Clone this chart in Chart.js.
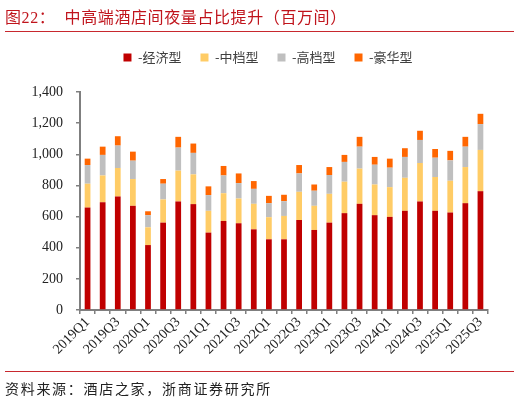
<!DOCTYPE html>
<html>
<head>
<meta charset="utf-8">
<script src="https://cdn.jsdelivr.net/npm/chart.js@4.4.1/dist/chart.umd.min.js"></script>
<style>
  html, body { margin: 0; padding: 0; background: #fff; }
  #wrap { position: relative; width: 520px; height: 402px; overflow: hidden; }
  #title { position: absolute; left: 5px; top: 4px; font-size: 16px; color: #c0141c; white-space: pre;
           font-family: "Liberation Serif", "Noto Sans CJK SC", serif; letter-spacing: 0.6px; }
  .rule { position: absolute; left: 5px; width: 509px; height: 1px; background: #c8282e; }
  #source { position: absolute; left: 5px; top: 378px; font-size: 14px; color: #222; letter-spacing: 1.7px;
            font-family: "Noto Sans CJK SC", sans-serif; }
  #box { position: absolute; left: 0; top: 0; width: 520px; height: 402px; }
</style>
</head>
<body>
<div id="wrap">
  <div id="box"><canvas id="hotelChart"></canvas></div>
  <div id="title">图22：  中高端酒店间夜量占比提升（百万间）</div>
  <div class="rule" style="top:31px"></div>
  <div class="rule" style="top:371px"></div>
  <div id="source">资料来源：酒店之家，浙商证券研究所</div>
</div>
<script>
// quarters 2019Q1 .. 2025Q3
const quarters = [
  "2019Q1","2019Q2","2019Q3","2019Q4",
  "2020Q1","2020Q2","2020Q3","2020Q4",
  "2021Q1","2021Q2","2021Q3","2021Q4",
  "2022Q1","2022Q2","2022Q3","2022Q4",
  "2023Q1","2023Q2","2023Q3","2023Q4",
  "2024Q1","2024Q2","2024Q3","2024Q4",
  "2025Q1","2025Q2","2025Q3"
];

// room nights, million
const economy  = [658,692,729,669,417,561,697,680,497,572,557,518,454,454,578,514,561,622,682,609,598,637,697,637,626,686,763];
const midscale = [153,172,183,172,114,149,198,191,140,178,159,164,142,150,181,155,185,202,226,197,191,212,247,217,204,232,265];
const upscale  = [120,132,144,118, 78,101,148,138,101,114, 99, 96, 90, 95,118, 97,121,127,141,127,125,134,148,124,131,131,166];
const luxury   = [ 41, 53, 60, 58, 25, 30, 69, 60, 56, 61, 62, 50, 47, 41, 54, 40, 51, 45, 63, 50, 58, 56, 59, 56, 61, 63, 66];

const yTicks = [0, 200, 400, 600, 800, 1000, 1200, 1400];

const serif = "'Liberation Serif', 'Times New Roman', serif";
const cjk = "'Noto Sans CJK SC', sans-serif";

function series(label, data, color) {
    return {
        label: label,
        data: data,
        backgroundColor: color,
        borderColor: color,
        borderWidth: 0,
        barPercentage: 0.38,
        categoryPercentage: 1.0
    };
}

// legend sits centred over the whole page in the original, a bit higher than chart.js puts it
const nudgeLegend = {
    id: "nudgeLegend",
    afterLayout(chart) {
        const l = chart.legend;
        if (!l) return;
        l.left += 24; l.right += 24;
        l.top -= 18; l.bottom -= 18;
    }
};

const ctx = document.getElementById("hotelChart").getContext("2d");
new Chart(ctx, {
    type: "bar",
    data: {
        labels: quarters,
        datasets: [
            series("-经济型", economy, "#c00000"),
            series("-中档型", midscale, "#ffcc66"),
            series("-高档型", upscale, "#bfbfbf"),
            series("-豪华型", luxury, "#ff6600")
        ]
    },
    plugins: [nudgeLegend],
    options: {
        responsive: true,
        maintainAspectRatio: false,
        animation: false,
        layout: { padding: { left: 0, right: 32, top: 50, bottom: 30 } },
        scales: {
            x: {
                stacked: true,
                afterFit: s => { s.height = 62; },
                border: { display: true, color: "#7f7f7f", width: 2 },
                grid: { display: true, drawOnChartArea: false, drawTicks: true, tickLength: 4, color: "#7f7f7f", lineWidth: 1.5, offset: true },
                ticks: {
                    autoSkip: false,
                    maxRotation: 45,
                    minRotation: 45,
                    padding: 0,
                    color: "#222",
                    font: { family: serif, size: 14 },
                    callback: (v, i) => (i % 2 === 0 ? quarters[i] : "")
                }
            },
            y: {
                stacked: true,
                min: 0,
                max: 1400,
                afterFit: s => { s.width = 80; },
                afterBuildTicks: s => { s.ticks = yTicks.map(v => ({ value: v })); },
                border: { display: true, color: "#7f7f7f", width: 2 },
                grid: { display: true, drawOnChartArea: false, drawTicks: true, tickLength: 4, color: "#7f7f7f", lineWidth: 1.5 },
                ticks: {
                    padding: 13,
                    color: "#222",
                    font: { family: serif, size: 14 },
                    callback: v => v.toLocaleString("en-US")
                }
            }
        },
        plugins: {
            legend: {
                display: true,
                position: "top",
                labels: {
                    boxWidth: 8,
                    boxHeight: 8,
                    padding: 19,
                    color: "#404040",
                    font: { family: cjk, size: 13 }
                }
            },
            tooltip: { enabled: false }
        }
    }
});
</script>
</body>
</html>
